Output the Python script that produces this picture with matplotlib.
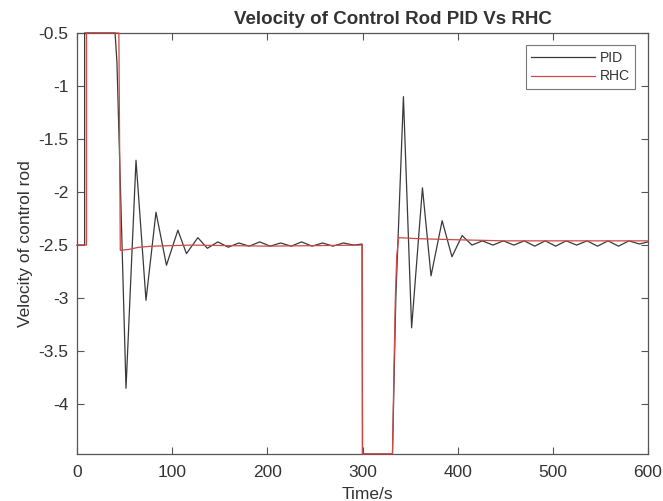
import matplotlib
matplotlib.use("Agg")
import matplotlib.pyplot as plt

plt.rcParams['font.family'] = ['Liberation Sans', 'DejaVu Sans']

# PID response (time in s, velocity)
pid_t = [0, 8, 8, 40, 42, 51.5, 62, 72.5, 83, 94, 106, 115, 127, 137, 148, 159, 170,
         181, 192, 203, 214, 225, 236, 247, 258, 269, 280, 291, 299.5, 300, 331.5,
         335, 343, 351.6, 363, 372, 383.7, 394, 404.7, 415, 426, 437, 448, 459, 470,
         481, 492, 503, 514, 525, 536, 547, 558, 569, 580, 591, 600]
pid_v = [-2.5, -2.5, -0.5, -0.5, -0.78, -3.85, -1.70, -3.02, -2.19, -2.69, -2.36, -2.58,
         -2.43, -2.53, -2.47, -2.52, -2.48, -2.51, -2.47, -2.51, -2.48, -2.51, -2.47,
         -2.51, -2.48, -2.51, -2.48, -2.50, -2.49, -4.47, -4.47, -3.0, -1.10, -3.28,
         -1.96, -2.79, -2.27, -2.61, -2.41, -2.50, -2.46, -2.50, -2.46, -2.50, -2.46,
         -2.51, -2.46, -2.51, -2.46, -2.50, -2.46, -2.51, -2.46, -2.51, -2.46, -2.49,
         -2.47]

# RHC response
rhc_t = [0, 10, 10, 44, 45.5, 55, 65, 80, 120, 200, 299.8, 300, 331.5, 333, 334.5,
         336, 338, 360, 400, 450, 500, 550, 600]
rhc_v = [-2.5, -2.5, -0.5, -0.5, -2.55, -2.54, -2.52, -2.51, -2.50, -2.51, -2.50,
         -4.47, -4.47, -3.7, -3.0, -2.6, -2.43, -2.44, -2.45, -2.46, -2.46, -2.46, -2.46]

xticks = [0, 100, 200, 300, 400, 500, 600]
yticks = [-4, -3.5, -3, -2.5, -2, -1.5, -1, -0.5]
ytick_labels = ['-4', '-3.5', '-3', '-2.5', '-2', '-1.5', '-1', '-0.5']

W, H = 663, 501
fig = plt.figure(figsize=(W / 100, H / 100), dpi=100)
ax = fig.add_axes([77 / W, 1 - 454 / H, (648 - 77) / W, (454 - 33) / H])

ax.plot(pid_t, pid_v, color='#3a3a3a', lw=0.9, label='PID', clip_on=False, zorder=3)
ax.plot(rhc_t, rhc_v, color='#d04848', lw=0.9, label='RHC', clip_on=False, zorder=3)

ax.set_xlim(0, 600)
ax.set_ylim(-4.47, -0.5)
ax.set_xticks(xticks)
ax.set_yticks(yticks)
ax.set_yticklabels(ytick_labels)

frame_col = '#555555'
for s in ax.spines.values():
    s.set_color(frame_col)
    s.set_linewidth(0.9)
ax.tick_params(direction='in', top=True, right=True, length=5, width=0.8,
               colors=frame_col, labelcolor='#333333', labelsize=12.5)
ax.tick_params(axis='x', pad=8)
ax.tick_params(axis='y', pad=6)

ax.set_ylabel('Velocity of control rod', fontsize=12.5, color='#333333', labelpad=4)
fig.text(367 / W, 1 - 487 / H, 'Time/s', ha='center', va='top', fontsize=12.5,
         color='#333333')
ax.text((393 - 77) / (648 - 77), 1 + 5 / (454 - 33), 'Velocity of Control Rod PID Vs RHC',
        transform=ax.transAxes, ha='center', va='bottom', fontsize=13.5,
        fontweight='bold', color='#333333')

leg = ax.legend(loc='upper right', bbox_to_anchor=((635 - 77) / (648 - 77), 1 - 12 / (454 - 33)),
                fontsize=10, frameon=True, fancybox=False, edgecolor=frame_col,
                handlelength=4.6, handletextpad=0.3, borderpad=0.4, labelspacing=0.35,
                borderaxespad=0)
leg.get_frame().set_linewidth(0.8)
leg.set_zorder(5)
for t in leg.get_texts():
    t.set_color('#333333')

fig.savefig('out.png', dpi=100)
